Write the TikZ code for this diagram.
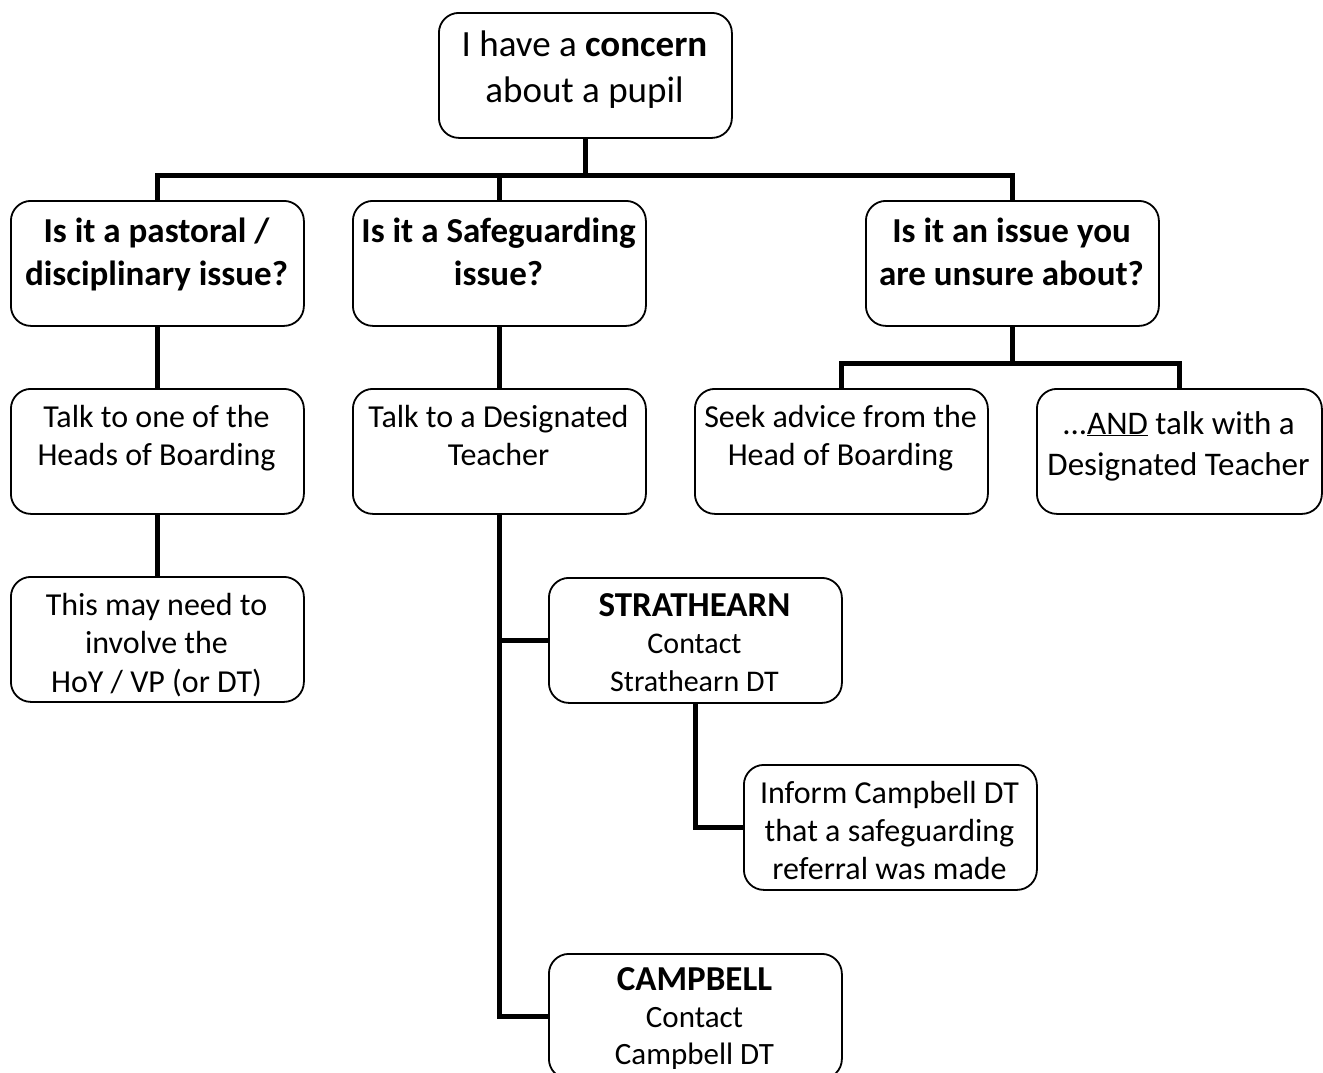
\documentclass[tikz,border=0pt]{standalone}
\usepackage{fontspec}
\setmainfont{Carlito}
\begin{document}
\begin{tikzpicture}[x=1pt,y=-1pt,
  box/.style={draw, line width=1.8pt, rounded corners=20pt, minimum width=293pt, minimum height=125pt, inner sep=0pt, anchor=north west},
  conn/.style={line width=5pt},
  txt/.style={align=center, inner sep=0pt, anchor=base, font=\fontsize{32}{38}\selectfont},
  btxt/.style={align=center, inner sep=0pt, anchor=base, font=\fontsize{35}{43}\selectfont\bfseries}]
\useasboundingbox (0,0) rectangle (1323,1072);
\clip (0,0) rectangle (1323,1072);
% boxes
\node[box] (top) at (438,12) {};
\node[box] (A) at (10,200) {};
\node[box] (B) at (352,200) {};
\node[box] (C) at (865,200) {};
\node[box] (A2) at (10,388) {};
\node[box] (B2) at (352,388) {};
\node[box] (C1) at (694,388) {};
\node[box, minimum width=285pt] (C2) at (1036,388) {};
\node[box] (A3) at (10,576) {};
\node[box] (S) at (548,577) {};
\node[box] (I) at (743,764) {};
\node[box] (Camp) at (548,953) {};
% texts (anchor = baseline of the last line)
\node[txt, font=\fontsize{37}{46}\selectfont] (ttop) at (584.5,102) {I have a \textbf{concern}\\about a pupil};
\node[btxt] (tA) at (156.5,285) {Is it a pastoral /\\disciplinary issue?};
\node[btxt] (tB) at (498.5,285) {Is it a Safeguarding\\issue?};
\node[btxt] (tC) at (1011.5,285) {Is it an issue you\\are unsure about?};
\node[txt] (tA2) at (156.5,465) {Talk to one of the\\Heads of Boarding};
\node[txt] (tB2) at (498.5,465) {Talk to a Designated\\Teacher};
\node[txt] (tC1) at (840.5,465) {Seek advice from the\\Head of Boarding};
\node[txt, font=\fontsize{33}{41}\selectfont] (tC2) at (1178.5,475) {...\underline{AND} talk with a\\Designated Teacher};
\node[txt, font=\fontsize{32}{38.5}\selectfont] (tA3) at (156.5,692) {This may need to\\involve the\\HoY / VP (or DT)};
\node[txt, font=\fontsize{30}{37.5}\selectfont] (tS) at (694.5,691) {{\fontsize{35}{37.5}\selectfont\bfseries STRATHEARN}\\Contact\\Strathearn DT};
\node[txt, font=\fontsize{32}{38}\selectfont] (tI) at (889.5,879) {Inform Campbell DT\\that a safeguarding\\referral was made};
\node[txt, font=\fontsize{31}{37}\selectfont] (tCamp) at (694.5,1064) {{\fontsize{35}{37}\selectfont\bfseries CAMPBELL}\\Contact\\Campbell DT};
% connectors
\draw[conn] (top.south) -- ++(0,38);
\draw[conn] (A.north) -- ++(0,-25) -| (C.north);
\draw[conn] (B.north) -- ++(0,-25);
\draw[conn] (A.south) -- (A2.north);
\draw[conn] (A2.south) -- (A3.north);
\draw[conn] (B.south) -- (B2.north);
\draw[conn] (B2.south) |- (Camp.west);
\draw[conn] (B2.south |- S.west) -- (S.west);
\draw[conn] (S.south) |- (I.west);
\draw[conn] (C.south) -- ++(0,37);
\draw[conn] (C1.north) -- ++(0,-25) -| (C2.north);
\end{tikzpicture}
\end{document}
